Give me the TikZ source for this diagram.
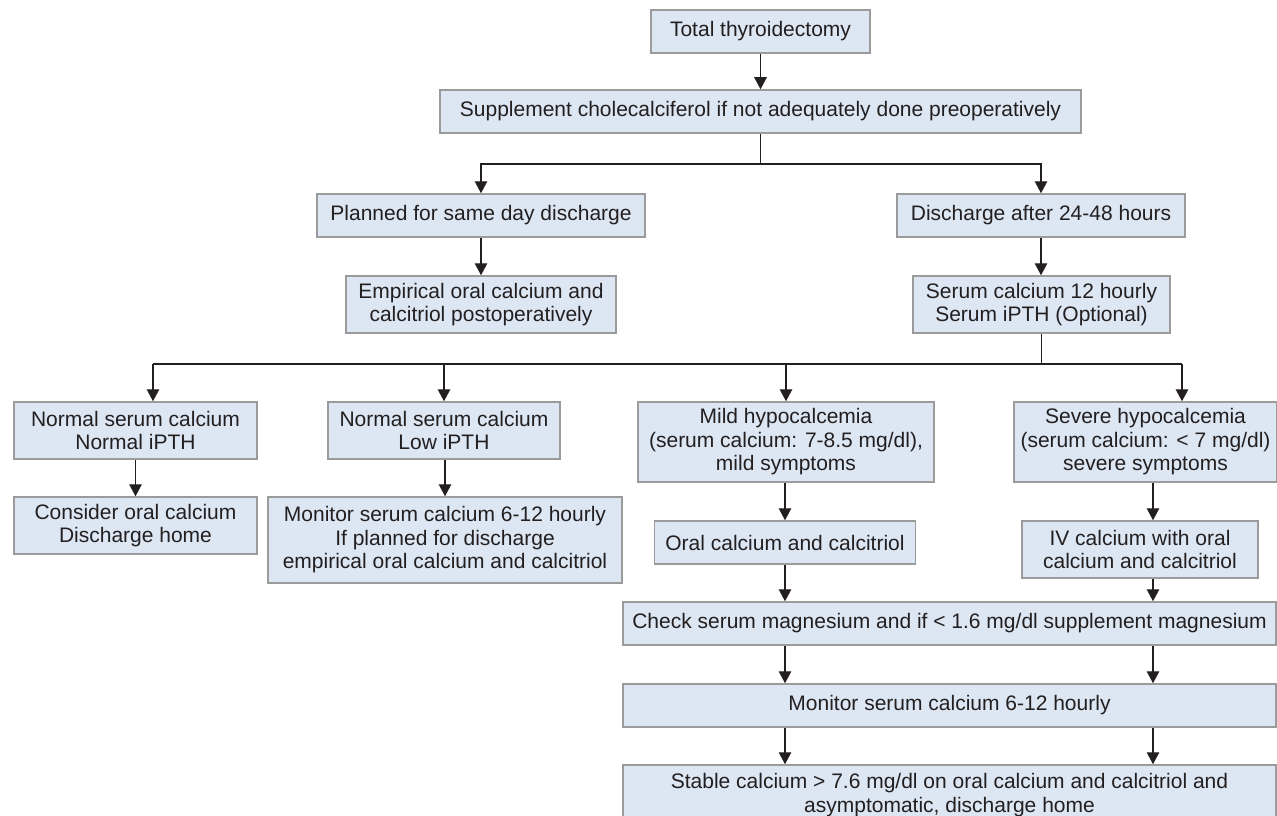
\documentclass[tikz,border=0pt]{standalone}
\usepackage{fontspec}
\setmainfont{Liberation Sans}
\usetikzlibrary{arrows.meta}
\definecolor{boxfill}{RGB}{220,231,243}
\definecolor{boxline}{RGB}{155,155,155}
\definecolor{ink}{RGB}{35,31,32}
\begin{document}
\begin{tikzpicture}[x=1pt,y=-1pt,
  box/.style={draw=boxline,fill=boxfill,line width=1.5pt,inner sep=0pt,align=center,text=ink,font=\fontsize{21}{23.5}\selectfont},
  arr/.style={draw=ink,line width=1.3pt,-{Triangle[length=12pt,width=12.5pt]}},
  ln/.style={draw=ink,line width=1.3pt}]
\clip (0,0) rectangle (1277,816);
\fill[white] (0,0) rectangle (1277,816);

\node[box,minimum width=219pt,minimum height=43pt] (total) at (760.5,31.5) {Total thyroidectomy};
\node[box,minimum width=641pt,minimum height=43pt] (supp) at (760.5,111.5) {Supplement cholecalciferol if not adequately done preoperatively};
\node[box,minimum width=328pt,minimum height=43pt] (planned) at (481,215.5) {Planned for same day discharge};
\node[box,minimum width=288pt,minimum height=43pt] (disch) at (1041,215.5) {Discharge after 24-48 hours};
\node[box,minimum width=270pt,minimum height=57pt] (empir) at (481,304.5) {Empirical oral calcium and\\calcitriol postoperatively};
\node[box,minimum width=257pt,minimum height=57pt] (serum) at (1041.5,304.5) {Serum calcium 12 hourly\\Serum iPTH (Optional)};
\node[box,minimum width=243pt,minimum height=57pt] (nn) at (135.5,430.5) {Normal serum calcium\\Normal iPTH};
\node[box,minimum width=232pt,minimum height=57pt] (nl) at (444,430.5) {Normal serum calcium\\Low iPTH};
\node[box,minimum width=296pt,minimum height=80pt] (mild) at (786,442) {Mild hypocalcemia\\(serum calcium: 7-8.5 mg/dl),\\mild symptoms};
\node[box,minimum width=263pt,minimum height=80pt] (severe) at (1145.5,442) {Severe hypocalcemia\\(serum calcium: < 7 mg/dl)\\severe symptoms};
\node[box,minimum width=243pt,minimum height=57pt] (consider) at (135.5,525.5) {Consider oral calcium\\Discharge home};
\node[box,minimum width=354pt,minimum height=86pt] (monl) at (445,540) {Monitor serum calcium 6-12 hourly\\If planned for discharge\\empirical oral calcium and calcitriol};
\node[box,minimum width=261pt,minimum height=43pt] (oral) at (785,542.5) {Oral calcium and calcitriol};
\node[box,minimum width=236pt,minimum height=57pt] (iv) at (1140,549.5) {IV calcium with oral\\calcium and calcitriol};
\node[box,minimum width=653pt,minimum height=43pt] (check) at (949.5,623.5) {Check serum magnesium and if < 1.6 mg/dl supplement magnesium};
\node[box,minimum width=653pt,minimum height=43pt] (monitor) at (949.5,705.5) {Monitor serum calcium 6-12 hourly};
\node[box,minimum width=653pt,minimum height=60pt] (stable) at (949.5,795) {Stable calcium > 7.6 mg/dl on oral calcium and calcitriol and\\asymptomatic, discharge home};

\coordinate (j1) at (760.5,164);
\coordinate (h1) at (153,364);
\coordinate (h4) at (1182,364);
\coordinate (colR) at (1153,0);

\draw[arr] (total) -- (supp);
\draw[ln] (supp.south) -- (j1);
\draw[arr] (j1) -| (planned.north);
\draw[arr] (j1) -| (disch.north);
\draw[arr] (planned) -- (empir);
\draw[arr] (disch.south) -- (disch.south |- serum.north);
\draw[ln] (serum.south) -- (serum.south |- h1);
\draw[ln] (h1) -- (h4);
\draw[arr] (h1) -- (h1 |- nn.north);
\draw[arr] (nl.north |- h1) -- (nl.north);
\draw[arr] (mild.north |- h1) -- (mild.north);
\draw[arr] (h4) -- (h4 |- severe.north);
\draw[arr] (nn) -- (consider);
\draw[arr] (monl.north |- nl.south) -- (monl.north);
\draw[arr] (oral.north |- mild.south) -- (oral.north);
\draw[arr] (severe.south -| colR) -- (iv.north -| colR);
\draw[arr] (oral.south) -- (oral.south |- check.north);
\draw[arr] (iv.south -| colR) -- (check.north -| colR);
\draw[arr] (check.south -| oral) -- (monitor.north -| oral);
\draw[arr] (check.south -| colR) -- (monitor.north -| colR);
\draw[arr] (monitor.south -| oral) -- (stable.north -| oral);
\draw[arr] (monitor.south -| colR) -- (stable.north -| colR);
\end{tikzpicture}
\end{document}
